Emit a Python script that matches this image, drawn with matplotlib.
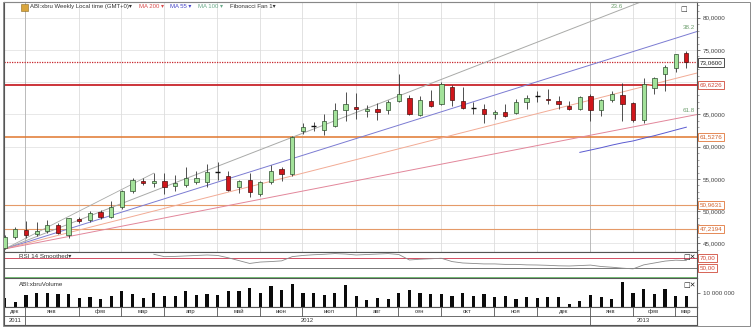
import numpy as np
import pandas as pd
import matplotlib
matplotlib.use("Agg")
import matplotlib.pyplot as plt
from matplotlib.patches import Rectangle
from matplotlib.ticker import MultipleLocator

plt.rcParams['font.family'] = ['Liberation Sans', 'DejaVu Sans']

# weekly candles ABI:xbru, dec 2011 .. mar 2013
opens = [44.3, 46.0, 47.1, 46.4, 46.9, 47.9, 46.3, 48.85, 48.65, 49.85,
         49.15, 50.6, 53.1, 54.75, 54.3, 54.7, 53.9, 54.1, 54.6, 54.5,
         56.0, 55.4, 53.8, 54.85, 52.6, 54.5, 56.6, 55.8, 62.4, 63.1,
         62.55, 63.2, 65.65, 66.15, 65.5, 65.9, 65.65, 67.1, 67.6, 64.85,
         67.05, 66.7, 69.2, 67.05, 66.0, 65.9, 65.1, 65.4, 65.25, 66.95,
         67.75, 67.4, 67.05, 66.25, 65.9, 67.8, 65.75, 67.2, 68.0, 66.8,
         64.2, 69.1, 71.35, 72.15, 74.6]
highs = [46.3, 47.5, 48.5, 48.3, 48.65, 48.1, 49.0, 49.1, 50.0, 50.2,
         51.55, 53.3, 55.2, 55.2, 55.9, 55.9, 55.6, 56.8, 56.2, 57.35,
         57.6, 56.2, 54.9, 55.9, 54.7, 57.1, 56.8, 61.6, 63.7, 63.8,
         65.1, 66.8, 68.5, 68.3, 66.4, 66.85, 67.3, 71.35, 68.0, 67.8,
         68.75, 70.05, 69.55, 69.2, 66.95, 66.6, 65.65, 66.6, 67.45, 68.0,
         68.65, 69.0, 67.8, 67.1, 67.85, 68.15, 67.45, 68.65, 69.9, 67.0,
         70.6, 70.8, 72.65, 74.45, 74.85]
lows = [44.15, 45.7, 45.9, 46.2, 46.6, 46.4, 45.9, 48.2, 48.3, 48.8,
        48.95, 50.35, 52.85, 54.0, 53.8, 52.7, 53.2, 53.7, 54.15, 53.7,
        54.85, 53.2, 52.8, 52.2, 52.3, 54.15, 54.65, 55.5, 61.9, 62.4,
        61.75, 63.0, 64.0, 64.35, 64.6, 64.1, 65.1, 66.95, 64.9, 64.7,
        66.15, 66.5, 66.25, 65.9, 65.1, 63.75, 64.25, 64.6, 65.1, 65.9,
        66.95, 66.7, 65.8, 65.65, 65.65, 63.95, 64.7, 66.95, 63.95, 63.9,
        63.6, 68.25, 68.6, 71.6, 72.15]
closes = [46.0, 47.3, 46.3, 47.0, 47.9, 46.6, 48.9, 48.45, 49.75, 49.05,
          50.6, 53.1, 54.85, 54.35, 54.7, 53.8, 54.35, 55.2, 55.2, 56.05,
          56.1, 53.35, 54.75, 53.05, 54.5, 56.3, 55.7, 61.5, 63.0, 63.2,
          64.0, 65.65, 66.7, 65.85, 65.9, 65.4, 66.95, 68.25, 65.1, 67.2,
          66.25, 69.7, 67.2, 66.05, 65.95, 65.1, 65.4, 64.7, 66.95, 67.55,
          67.85, 67.2, 66.55, 65.8, 67.7, 65.65, 67.3, 68.25, 66.55, 64.1,
          69.8, 70.6, 72.4, 74.3, 73.06]
volumes_m = [6.4, 3.1, 8.3, 10, 9.5, 8.8, 8.8, 6, 7.1, 5.5,
             7.6, 11.4, 9.3, 6, 9.8, 7.4, 7.4, 11.2, 8.1, 8.8,
             8.6, 11.2, 11.2, 13.5, 10, 14.8, 11.9, 16.2, 9.5, 9.5,
             8.6, 10, 15.7, 7.6, 4.8, 6.0, 5.2, 10, 11.7, 10,
             8.8, 8.8, 7.9, 10, 7.6, 8.8, 6.7, 7.6, 5.2, 7.1,
             6, 6.7, 7.1, 1.7, 4, 8.1, 7.1, 5.2, 17.6, 10,
             12.6, 8.8, 12.6, 7.9, 7.4]
rsi_vals = [np.nan] * 14 + [
    78.5, 73.4, 74, 75, 76, 77, 76, 71, 65, 59,
    62, 63, 64.5, 73.5, 76, 77.5, 78.5, 80, 79, 77,
    78, 79, 80, 78, 66.4, 68, 69, 70, 63, 60,
    59, 58, 58, 57, 57, 56, 55.7, 55, 54, 53.6,
    54.5, 55.5, 52.5, 51, 49, 47.5, 56, 60, 64, 66, 65]

# horizontal levels drawn on the chart
level_last = 73.06
level_red = 69.6226
levels_orange = [61.5276, 50.9631, 47.2194]
price_ticks = [45, 50, 55, 60, 65, 75, 80]

# month axis (index of first week of each month)
month_starts = [2, 7, 11, 15, 20, 24, 28, 33, 37, 41, 46, 50, 55, 59, 63]
month_names = ['дек', 'янв', 'фев', 'мар', 'апр', 'май', 'июн', 'июл',
               'авг', 'сен', 'окт', 'ноя', 'дек', 'янв', 'фев', 'мар']
year_starts = [2, 55]
year_names = ['2011', '2012', '2013']

# fibonacci fan anchors (week index)
fan_i1, fan_i2 = 0, 14
fan_levels = [23.6, 38.2, 50.0, 61.8]
fan_colors = ['#a9aaa8', '#7b7bd2', '#f2ab95', '#e2869a']

W, H = 752, 328
fig = plt.figure(figsize=(W / 100, H / 100), dpi=100)


def px_axes(x0, y0, x1, y1):
    return fig.add_axes([x0 / W, 1 - y1 / H, (x1 - x0) / W, (y1 - y0) / H])


def fmt(v, n):
    return f"{v:.{n}f}".replace('.', ',')


n = len(closes)
x = np.arange(n)
XLIM = (-0.066, 65.0)
FS = 4.5
edge = '#555555'

ax = px_axes(4, 2, 697, 251.7)
ax_rsi = px_axes(4, 251.7, 697, 278.3)
ax_vol = px_axes(4, 278.3, 697, 306.7)
ax_dt = px_axes(4, 306.7, 697, 324.5)

for a in (ax, ax_rsi, ax_vol, ax_dt):
    a.set_xlim(*XLIM)
    a.set_xticks([])
    for s in a.spines.values():
        s.set_color(edge)
        s.set_linewidth(0.8)
    a.set_facecolor('white')

# ---- main price panel
ax.set_ylim(43.72, 82.44)
for p in range(45, 85, 5):
    ax.axhline(p, color='#e4e4e4', lw=0.6, zorder=0)
for m in month_starts:
    c = '#b0b0b0' if m in year_starts else '#dddddd'
    ax.axvline(m - 0.05, color=c, lw=0.6, zorder=0)

ax.axhline(level_last, color='#c8242a', lw=0.9, ls=(0, (1, 1)), zorder=1)
ax.axhline(level_red, color='#c8242a', lw=1.3, zorder=1)
ax.axhline(levels_orange[0], color='#e0762e', lw=1.1, zorder=1)
for lv in levels_orange[1:]:
    ax.axhline(lv, color='#e59a68', lw=0.8, zorder=1)

# fibonacci fan
p1, p2 = lows[fan_i1], highs[fan_i2]
ax.plot([fan_i1, fan_i2], [p1, p2], color='#a9aaa8', lw=0.6, zorder=1)
xf = np.array([fan_i1, 80.0])
for lv, col in zip(fan_levels, fan_colors):
    slope = (1 - lv / 100) * (p2 - p1) / (fan_i2 - fan_i1)
    ax.plot(xf, p1 + slope * (xf - fan_i1), color=col, lw=0.7, zorder=1)
    if lv == 50.0:
        continue
    x_top = fan_i1 + (ax.get_ylim()[1] - p1) / slope
    if x_top < XLIM[1]:
        ax.text(x_top - 1.7, ax.get_ylim()[1] - 0.3, f"{lv:.1f}", ha='right',
                va='top', fontsize=FS, color='#6f9f6f')
    else:
        xt = XLIM[1] - 0.2
        ax.text(xt, p1 + slope * (xt - fan_i1) + 0.3, f"{lv:.1f}", ha='right',
                va='bottom', fontsize=FS, color='#6f9f6f')

# MA 55
ma55 = pd.Series(closes).rolling(55).mean()
ax.plot(x, ma55, color='#5a5ad0', lw=0.7, zorder=2)

# candles
o = np.array(opens)
c = np.array(closes)
hi = np.array(highs)
lo = np.array(lows)
ax.vlines(x, lo, hi, color='#333333', lw=0.6, zorder=3)
up = c >= o
doji = np.abs(c - o) < 0.15
body_bot = np.minimum(o, c)
body_h = np.abs(c - o)
mask_up = up & ~doji
mask_dn = ~up & ~doji
ax.bar(x[mask_up], body_h[mask_up], bottom=body_bot[mask_up], width=0.4,
       color='#a3e29a', edgecolor='#2f4f2f', linewidth=0.5, zorder=4)
ax.bar(x[mask_dn], body_h[mask_dn], bottom=body_bot[mask_dn], width=0.4,
       color='#d0161b', edgecolor='#4a1010', linewidth=0.5, zorder=4)
ax.hlines((o[doji] + c[doji]) / 2, x[doji] - 0.22, x[doji] + 0.22,
          color='#111111', lw=1.0, zorder=4)

ax.yaxis.tick_right()
ax.set_yticks(price_ticks)
ax.set_yticklabels([fmt(v, 4) for v in price_ticks])
ax.yaxis.set_minor_locator(MultipleLocator(1))
ax.tick_params(axis='y', which='major', labelsize=FS, length=2.5, width=0.5,
               pad=1.5, colors='#444444')
ax.tick_params(axis='y', which='minor', length=1.2, width=0.4, colors='#666666')


def level_box(a, val, text, col, tcol):
    a.annotate(text, xy=(1, val), xycoords=a.get_yaxis_transform(),
               xytext=(2, 0), textcoords='offset points', ha='left',
               va='center', fontsize=FS, color=tcol, annotation_clip=False,
               bbox=dict(boxstyle='square,pad=0.25', fc='white', ec=col, lw=0.6),
               zorder=10)


level_box(ax, level_last, fmt(level_last, 4), '#333333', '#222222')
level_box(ax, level_red, fmt(level_red, 4), '#d04a3a', '#d04a3a')
for lv in levels_orange:
    level_box(ax, lv, fmt(lv, 4), '#e0763a', '#d0602a')

ax.text(0.986, 0.985, '□', transform=ax.transAxes, ha='right', va='top',
        fontsize=5, color='#333333', family='DejaVu Sans')

# ---- RSI panel
ax_rsi.set_ylim(27.4, 84.0)
ax_rsi.set_yticks([])
ax_rsi.axhline(70, color='#d24d62', lw=0.7)
ax_rsi.axhline(50, color='#777777', lw=0.7)
ax_rsi.axhline(30, color='#74c474', lw=0.7)
ax_rsi.plot(x, rsi_vals, color='#8a8a8a', lw=0.6)
ax_rsi.text(0.022, 0.82, 'RSI 14 Smoothed▾', transform=ax_rsi.transAxes,
            fontsize=FS, va='center', color='#333333')
level_box(ax_rsi, 70, '70,00', '#d04a3a', '#d04a3a')
level_box(ax_rsi, 50, '50,00', '#d04a3a', '#d04a3a')
ax_rsi.text(0.998, 0.8, '□✕', transform=ax_rsi.transAxes, ha='right',
            va='center', fontsize=5, color='#222222', family='DejaVu Sans')

# ---- volume panel
vol = np.array(volumes_m) * 1e6
ax_vol.set_ylim(0, 20.3e6)
ax_vol.bar(x, vol, width=0.3, color='#0a0a0a', zorder=2)
ax_vol.yaxis.tick_right()
ax_vol.set_yticks([10e6])
ax_vol.set_yticklabels(['10 000 000'])
ax_vol.tick_params(axis='y', labelsize=FS, length=2.5, width=0.5, pad=1.5,
                   colors='#444444')
ax_vol.text(0.022, 0.77, 'ABI:xbruVolume', transform=ax_vol.transAxes,
            fontsize=FS, va='center', color='#333333')
ax_vol.text(0.998, 0.77, '□✕', transform=ax_vol.transAxes, ha='right',
            va='center', fontsize=5, color='#222222', family='DejaVu Sans')

# ---- date axis
ax_dt.set_ylim(0, 2)
ax_dt.set_yticks([])
ax_dt.axhline(1.0, color=edge, lw=0.6)
bounds = [XLIM[0]] + [m - 0.05 for m in month_starts] + [XLIM[1]]
for m in month_starts:
    top = 0 if m in year_starts else 1.0
    ax_dt.plot([m - 0.05, m - 0.05], [top, 2], color=edge, lw=0.6)
for i, name in enumerate(month_names):
    ax_dt.text((bounds[i] + bounds[i + 1]) / 2, 1.5, name, ha='center',
               va='center', fontsize=4.2, color='#333333')
ybounds = [XLIM[0]] + [m - 0.05 for m in year_starts] + [XLIM[1]]
for i, name in enumerate(year_names):
    ax_dt.text((ybounds[i] + ybounds[i + 1]) / 2, 0.5, name, ha='center',
               va='center', fontsize=4.2, color='#333333')

# ---- header
fig.patches.append(Rectangle((21 / W, 1 - 10.5 / H), 6.5 / W, 6.5 / H,
                             transform=fig.transFigure, fc='#d9a53c',
                             ec='#8a6a20', lw=0.4))
hy = 1 - 6.7 / H
fig.text(30 / W, hy, 'ABI:xbru Weekly Local time (GMT+0)▾', fontsize=4.3,
         va='center', color='#333333')
fig.text(139 / W, hy, 'MA 200 ▾', fontsize=4.3, va='center', color='#d84a4a')
fig.text(170 / W, hy, 'MA 55 ▾', fontsize=4.3, va='center', color='#4646c8')
fig.text(198 / W, hy, 'MA 100 ▾', fontsize=4.3, va='center', color='#6aaa8a')
fig.text(230 / W, hy, 'Fibonacci Fan 1▾', fontsize=4.3, va='center',
         color='#333333')

# outer frame
fig.patches.append(Rectangle((3 / W, 1 - 325.5 / H), 747 / W, 323.5 / H,
                             transform=fig.transFigure, fill=False,
                             ec='#8a8a8a', lw=0.7))

fig.savefig('out.png', dpi=100)
